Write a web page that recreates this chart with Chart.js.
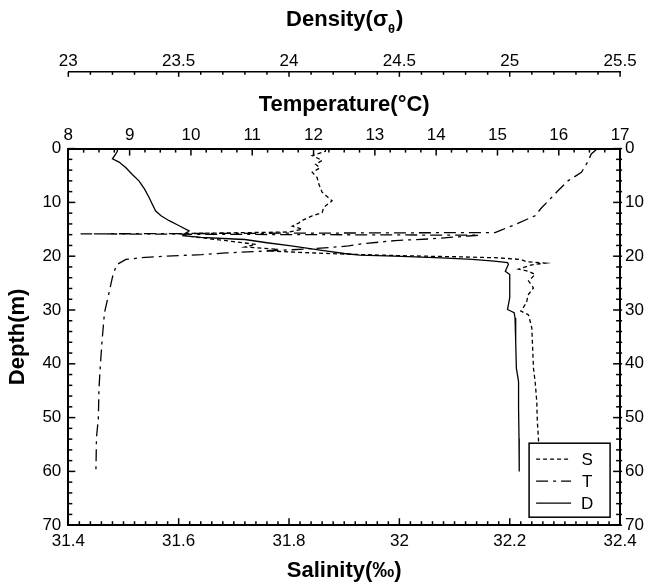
<!DOCTYPE html>
<html>
<head>
<meta charset="utf-8">
<script src="https://cdn.jsdelivr.net/npm/chart.js@4.4.0/dist/chart.umd.min.js"></script>
<style>
  html, body { margin: 0; padding: 0; background: #fff; }
</style>
</head>
<body>
<canvas id="chart" width="649" height="584"></canvas>
<script>
// Salinity profile (S)
const salDepth = [0, 0.5, 1.3, 2.2, 2.9, 3.6, 4.4, 5.4, 6.6, 8.1, 9.7, 10.9, 11.9, 12.5, 13.3, 13.8, 14.4, 15.0, 15.5,
  15.8, 16.3, 16.8, 17.3, 17.8, 18.3, 18.7, 19.0, 19.3, 19.6, 19.9, 20.1, 20.3, 20.6, 21.0, 21.3, 21.6, 22.4, 22.8,
  23.4, 24.6, 25.9, 27.1, 28.7, 30.2, 30.9, 33.3, 35.8, 40.8, 43.3, 47.0, 50.7, 53.8, 57.0, 60.0]
const salValues = [31.866, 31.866, 31.842, 31.860, 31.848, 31.856, 31.842, 31.851, 31.854, 31.860, 31.878, 31.863,
  31.860, 31.842, 31.825, 31.818, 31.806, 31.824, 31.800, 31.600, 31.620, 31.660, 31.700, 31.740, 31.720, 31.780,
  31.760, 31.820, 31.900, 32.000, 32.100, 32.180, 32.220, 32.230, 32.264, 32.240, 32.216, 32.234, 32.246, 32.234,
  32.243, 32.234, 32.230, 32.220, 32.234, 32.240, 32.241, 32.243, 32.246, 32.249, 32.250, 32.252, 32.253, 32.254]

// Temperature profile (T)
const tempDepth = [0, 0.3, 1.0, 2.5, 4.4, 6.0, 7.8, 9.7, 11.0, 12.5, 14.1, 15.2, 15.6, 15.85, 16.1, 16.2, 16.8, 17.1,
  17.7, 18.1, 18.4, 18.8, 19.4, 19.7, 20.0, 20.2, 20.6, 21.5, 21.8, 23.9, 26.5, 30.5, 35.8, 40.8, 44.6, 50.2, 53.6, 60.0]
const tempValues = [16.62, 16.60, 16.53, 16.47, 16.37, 16.15, 15.99, 15.83, 15.72, 15.61, 15.29, 15.05, 14.96, 8.20,
  14.70, 14.58, 13.88, 13.33, 12.79, 12.57, 12.25, 11.65, 10.57, 10.18, 9.59, 9.26, 8.94, 8.80, 8.78, 8.72, 8.67,
  8.59, 8.55, 8.52, 8.50, 8.49, 8.46, 8.45]

// Density sigma-theta profile (D)
const densDepth = [0, 0.5, 1.0, 1.9, 2.5, 3.5, 4.8, 6.0, 7.5, 9.1, 10.3, 11.6, 12.5, 13.4, 14.3, 15.3, 15.8, 16.2,
  16.5, 16.8, 16.9, 17.5, 18.1, 19.0, 19.5, 19.8, 20.0, 20.3, 20.6, 20.9, 21.2, 21.5, 22.8, 23.4, 25.3, 27.7, 29.9,
  30.5, 31.5, 35.8, 40.8, 43.3, 48.3, 53.9, 60.0]
const densValues = [23.222, 23.222, 23.215, 23.200, 23.230, 23.260, 23.290, 23.320, 23.345, 23.366, 23.380, 23.396,
  23.420, 23.457, 23.500, 23.547, 23.530, 23.520, 23.600, 23.750, 23.800, 23.900, 24.010, 24.165, 24.250, 24.320,
  24.480, 24.690, 24.830, 24.930, 24.990, 24.994, 24.980, 25.000, 25.000, 25.000, 24.990, 25.020, 25.024, 25.027,
  25.030, 25.040, 25.040, 25.042, 25.043]

// tick labels
const depthTicks = [0, 10, 20, 30, 40, 50, 60, 70]
const salTicks = [31.4, 31.6, 31.8, 32, 32.2, 32.4]
const tempTicks = [8, 9, 10, 11, 12, 13, 14, 15, 16, 17]
const densTicks = [23, 23.5, 24, 24.5, 25, 25.5]

const FONT = "'Liberation Sans', Arial, sans-serif"
const tickFont = { family: FONT, size: 17 }
const titleFont = { family: FONT, size: 22, weight: 'bold' }

function toPoints(values, depths) {
  return values.map((v, i) => ({ x: v, y: depths[i] }))
}

function fixedTicks(list) {
  return scale => { scale.ticks = list.map(v => ({ value: v })) }
}

const plainLabel = v => String(+Number(v).toFixed(2))

function steps(min, max, step) {
  const out = []
  const n = Math.round((max - min) / step)
  for (let i = 0; i <= n; i++) out.push(min + i * step)
  return out
}

function isMajor(v, major) {
  const r = v / major
  return Math.abs(r - Math.round(r)) < 1e-6
}

const series = [
  { label: 'S', data: toPoints(salValues, salDepth), xAxisID: 'x', dash: [4, 3] },
  { label: 'T', data: toPoints(tempValues, tempDepth), xAxisID: 'xT', dash: [12, 5, 3, 5] },
  { label: 'D', data: toPoints(densValues, densDepth), xAxisID: 'xD', dash: [] }
]

// inward tick marks, density title with subscript, boxed legend
const decorations = {
  id: 'decorations',
  afterDatasetsDraw(chart) {
    const ctx = chart.ctx
    const a = chart.chartArea
    const s = chart.scales
    ctx.save()
    ctx.strokeStyle = '#000'
    ctx.lineWidth = 1.5
    const mark = (x1, y1, x2, y2) => { ctx.beginPath(); ctx.moveTo(x1, y1); ctx.lineTo(x2, y2); ctx.stroke() }

    steps(8, 17, 0.25).forEach(v => {
      const x = s.xT.getPixelForValue(v)
      mark(x, a.top, x, a.top + (isMajor(v, 1) ? 7 : 4))
    })
    steps(23, 25.5, 0.1).forEach(v => {
      const x = s.xD.getPixelForValue(v)
      mark(x, s.xD.bottom, x, s.xD.bottom + (isMajor(v, 0.5) ? 5 : 3))
    })
    steps(31.4, 32.4, 0.02).forEach(v => {
      const x = s.x.getPixelForValue(v)
      mark(x, a.bottom, x, a.bottom - (isMajor(v - 31.4, 0.2) ? 7 : 4))
    })
    steps(0, 70, 2).forEach(v => {
      const y = s.y.getPixelForValue(v)
      const len = isMajor(v, 10) ? 7 : 4
      mark(a.left, y, a.left + len, y)
      mark(a.right - len, y, a.right + 2, y)
    })
    ctx.restore()
  },
  afterDraw(chart) {
    const ctx = chart.ctx
    const a = chart.chartArea
    const s = chart.scales
    ctx.save()

    // Density(σθ) title
    const cx = (s.xD.left + s.xD.right) / 2
    const cy = s.xD.top + 7 + 13
    ctx.fillStyle = '#000'
    ctx.textBaseline = 'middle'
    ctx.textAlign = 'left'
    const big = 'bold 22px ' + FONT
    const small = 'bold 13px ' + FONT
    ctx.font = big
    const w1 = ctx.measureText('Density(σ').width
    const w3 = ctx.measureText(')').width
    ctx.font = small
    const w2 = ctx.measureText('θ').width
    const x0 = cx - (w1 + w2 + w3) / 2
    ctx.font = big
    ctx.fillText('Density(σ', x0, cy)
    ctx.font = small
    ctx.fillText('θ', x0 + w1, cy + 9)
    ctx.font = big
    ctx.fillText(')', x0 + w1 + w2 + 1, cy)

    // legend box
    const bw = 81, bh = 74
    const bx = a.right - 10 - bw
    const by = a.bottom - 8 - bh
    ctx.fillStyle = '#fff'
    ctx.fillRect(bx, by, bw, bh)
    ctx.strokeStyle = '#000'
    ctx.lineWidth = 1.5
    ctx.strokeRect(bx, by, bw, bh)
    ctx.font = '17px ' + FONT
    series.forEach((ds, i) => {
      const y = by + 16 + i * 22
      ctx.setLineDash(ds.dash)
      ctx.lineWidth = 1.3
      ctx.beginPath()
      ctx.moveTo(bx + 7, y)
      ctx.lineTo(bx + 42, y)
      ctx.stroke()
      ctx.setLineDash([])
      ctx.fillStyle = '#000'
      ctx.textAlign = 'center'
      ctx.fillText(ds.label, bx + 58, y + 1)
    })
    ctx.restore()
  }
}

const border = { display: true, color: '#000', width: 2 }
const noGrid = { display: false, drawTicks: false }

new Chart(document.getElementById('chart'), {
  type: 'scatter',
  data: {
    datasets: series.map(ds => ({
      label: ds.label,
      data: ds.data,
      xAxisID: ds.xAxisID,
      yAxisID: 'y',
      showLine: true,
      borderColor: '#000',
      borderWidth: 1.3,
      borderDash: ds.dash,
      pointRadius: 0,
      fill: false,
      tension: 0
    }))
  },
  options: {
    responsive: false,
    animation: false,
    events: [],
    layout: { padding: 0 },
    plugins: { legend: { display: false }, tooltip: { enabled: false } },
    scales: {
      x: {
        type: 'linear', position: 'bottom', min: 31.4, max: 32.4,
        afterBuildTicks: fixedTicks(salTicks),
        ticks: { font: tickFont, color: '#000', padding: 6, maxRotation: 0, autoSkip: false, callback: plainLabel },
        grid: noGrid, border: border,
        title: { display: true, text: 'Salinity(‰)', font: titleFont, color: '#000', padding: { top: 0, bottom: 0 } }
      },
      xT: {
        type: 'linear', position: 'top', weight: 1, min: 8, max: 17,
        afterBuildTicks: fixedTicks(tempTicks),
        ticks: { font: tickFont, color: '#000', padding: 3, maxRotation: 0, autoSkip: false, callback: plainLabel },
        grid: noGrid, border: border,
        title: { display: true, text: 'Temperature(°C)', font: titleFont, color: '#000', padding: { top: 20, bottom: 4 } }
      },
      xD: {
        type: 'linear', position: 'top', weight: 2, min: 23, max: 25.5,
        afterBuildTicks: fixedTicks(densTicks),
        ticks: { font: tickFont, color: '#000', padding: 0, maxRotation: 0, autoSkip: false, callback: plainLabel },
        grid: noGrid, border: { display: true, color: '#000', width: 1.5 },
        title: { display: true, text: 'Density(σθ)', font: titleFont, color: 'rgba(0,0,0,0)', padding: { top: 7, bottom: 18 } }
      },
      y: {
        type: 'linear', position: 'left', reverse: true, min: 0, max: 70,
        afterBuildTicks: fixedTicks(depthTicks),
        ticks: { font: tickFont, color: '#000', padding: 7, callback: plainLabel },
        grid: noGrid, border: border,
        title: { display: true, text: 'Depth(m)', font: titleFont, color: '#000', padding: { top: 5, bottom: 4 } }
      },
      y2: {
        type: 'linear', position: 'right', reverse: true, min: 0, max: 70,
        afterBuildTicks: fixedTicks(depthTicks),
        ticks: { font: tickFont, color: '#000', padding: 5, callback: plainLabel },
        grid: noGrid, border: border
      }
    }
  },
  plugins: [decorations]
})
</script>
</body>
</html>
